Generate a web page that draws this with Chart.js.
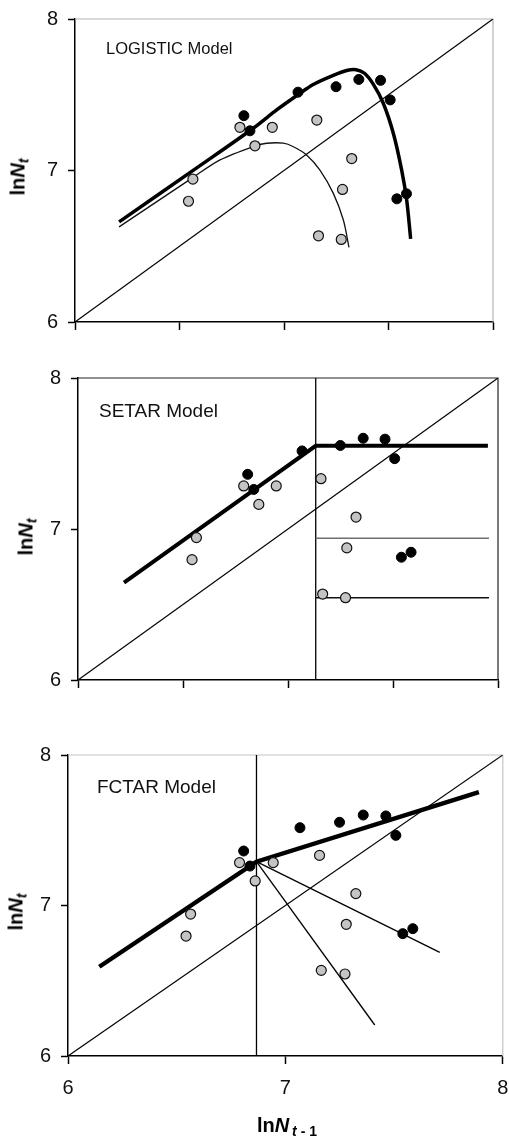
<!DOCTYPE html>
<html>
<head>
<meta charset="utf-8">
<script src="https://cdn.jsdelivr.net/npm/chart.js@4.4.1/dist/chart.umd.min.js"></script>
<style>
  html, body { margin: 0; padding: 0; background: #fff; }
  #page { position: relative; width: 509px; height: 1145px; overflow: hidden;
          font-family: "Liberation Sans", Arial, sans-serif; color: #000; }
  .panel { position: absolute; left: 0; width: 509px; }
  .panel canvas { display: block; }
  .ytitle, .xtitle { position: absolute; font-weight: bold; font-size: 20px; line-height: 1;
                     white-space: nowrap; }
  .ytitle { transform: translate(-50%, -50%) rotate(-90deg); }
  .xtitle { transform: translate(-50%, -50%); }
  .ytitle sub, .xtitle sub { font-size: 14px; vertical-align: -4px; }
</style>
</head>
<body>
<div id="page">
  <div class="panel" style="top:0"><canvas id="c1" width="509" height="345"></canvas></div>
  <div class="panel" style="top:345px"><canvas id="c2" width="509" height="345"></canvas></div>
  <div class="panel" style="top:690px"><canvas id="c3" width="509" height="455"></canvas></div>
  <div class="ytitle" style="left:19px;top:177px">ln<i>N</i><sub><i>t</i></sub></div>
  <div class="ytitle" style="left:27px;top:537px">ln<i>N</i><sub><i>t</i></sub></div>
  <div class="ytitle" style="left:17px;top:912px">ln<i>N</i><sub><i>t</i></sub></div>
  <div class="xtitle" style="left:287px;top:1126px">ln<i>N</i><sub>&#8201;<i>t</i> - 1</sub></div>
</div>
<script>
// observed points (same in all three panels)
const blackX = [6.808, 6.837, 7.067, 7.249, 7.358, 7.462, 7.508, 7.540, 7.586];
const blackY = [7.362, 7.262, 7.517, 7.553, 7.601, 7.595, 7.466, 6.813, 6.846];
const grayX = [6.543, 6.564, 6.789, 6.861, 6.944, 7.157, 7.324, 7.280, 7.165, 7.274];
const grayY = [6.797, 6.943, 7.285, 7.163, 7.285, 7.333, 7.079, 6.875, 6.569, 6.545];

// 1:1 line
const diagX = [6, 8];
const diagY = [6, 8];

// logistic fits
const logBlackX = [6.211, 6.598, 6.853, 6.965, 7.077, 7.140, 7.236, 7.300, 7.345, 7.385, 7.427, 7.475, 7.523, 7.563, 7.587, 7.606];
const logBlackY = [6.661, 7.032, 7.279, 7.400, 7.510, 7.568, 7.628, 7.660, 7.665, 7.642, 7.570, 7.444, 7.246, 7.003, 6.805, 6.549];
const logGrayX = [6.211, 6.558, 6.694, 6.861, 6.917, 6.997, 7.045, 7.108, 7.172, 7.236, 7.284, 7.311];
const logGrayY = [6.628, 6.948, 7.070, 7.162, 7.180, 7.180, 7.157, 7.103, 7.003, 6.849, 6.673, 6.492];

// SETAR fit
const setarFitX = [6.219, 7.132, 7.952];
const setarFitY = [6.645, 7.551, 7.551];
const setarThreshold = 7.132;
const setarLowX = [7.132, 7.957];
const setarGrayLevel = 6.939;
const setarBlackLevel = 6.545;

// FCTAR fit
const fctarFitX = [6.144, 6.867, 7.890];
const fctarFitY = [6.593, 7.291, 7.754];
const fctarThreshold = 6.867;
const fctarSteepX = [6.867, 7.411];
const fctarSteepY = [7.291, 6.206];
const fctarShallowX = [6.867, 7.710];
const fctarShallowY = [7.291, 6.689];

const yTicks = ['6', '7', '8'];
const xTicks = ['6', '7', '8'];

const pts = (xs, ys) => xs.map((x, i) => ({ x: x, y: ys[i] }));

const tickFont = { family: '"Liberation Sans", Arial, sans-serif', size: 20 };

// top/right frame lines
const framePlugin = {
  id: 'frame',
  beforeDatasetsDraw(chart, args, opts) {
    const { ctx, chartArea: a } = chart;
    ctx.save();
    ctx.strokeStyle = opts.color;
    ctx.lineWidth = opts.width;
    ctx.beginPath();
    ctx.moveTo(a.left, a.top);
    ctx.lineTo(a.right, a.top);
    ctx.lineTo(a.right, a.bottom);
    ctx.stroke();
    ctx.restore();
  }
};

const labelPlugin = {
  id: 'panelLabel',
  afterDraw(chart, args, opts) {
    const { ctx, chartArea: a } = chart;
    ctx.save();
    ctx.font = opts.size + 'px "Liberation Sans", Arial, sans-serif';
    ctx.fillStyle = '#111';
    ctx.textBaseline = 'alphabetic';
    ctx.fillText(opts.text, a.left + opts.dx, a.top + opts.dy);
    ctx.restore();
  }
};

function scatterSets() {
  return [
    { data: pts(blackX, blackY), pointRadius: 5, pointBackgroundColor: '#000',
      pointBorderColor: '#000', pointBorderWidth: 1, showLine: false },
    { data: pts(grayX, grayY), pointRadius: 5, pointBackgroundColor: '#c4c4c4',
      pointBorderColor: '#111', pointBorderWidth: 1.2, showLine: false }
  ];
}

function line(xs, ys, width, color, tension) {
  return { data: pts(xs, ys), showLine: true, pointRadius: 0, borderColor: color || '#000',
           borderWidth: width, tension: tension || 0, fill: false };
}

function makeChart(id, box, datasets, xStep, showX, frameColor, label) {
  const h = document.getElementById(id).height;
  return new Chart(document.getElementById(id), {
    type: 'scatter',
    data: { datasets: datasets },
    plugins: [framePlugin, labelPlugin],
    options: {
      responsive: false,
      animation: false,
      events: [],
      layout: { padding: { top: box.top, right: 509 - box.right, left: 0, bottom: 0 } },
      plugins: {
        legend: { display: false },
        tooltip: { enabled: false },
        frame: { color: frameColor, width: 1.2 },
        panelLabel: label
      },
      scales: {
        x: {
          type: 'linear', min: 6, max: 8,
          afterFit: s => { s.height = h - box.bottom; s.paddingLeft = 0; s.paddingRight = 0; },
          afterBuildTicks: s => { s.ticks = []; for (let v = 6; v <= 8.001; v += xStep) s.ticks.push({ value: v }); },
          border: { display: true, color: '#000', width: 1.5 },
          grid: { drawOnChartArea: false, drawTicks: true, tickLength: 8, tickColor: '#000', tickWidth: 1.5 },
          ticks: {
            display: showX, padding: 12, color: '#111', font: tickFont,
            callback: v => xTicks[Math.round(v) - 6]
          }
        },
        y: {
          type: 'linear', min: 6, max: 8,
          afterFit: s => { s.width = box.left; s.paddingTop = 0; s.paddingBottom = 0; },
          border: { display: true, color: '#000', width: 1.5 },
          grid: { drawOnChartArea: false, drawTicks: true, tickLength: 7, tickColor: '#000', tickWidth: 1.5 },
          ticks: {
            stepSize: 1, padding: 10, color: '#111', font: tickFont,
            callback: v => yTicks[Math.round(v) - 6]
          }
        }
      }
    }
  });
}

// panel 1: logistic
makeChart('c1', { left: 75, right: 493, top: 19, bottom: 322 }, [
  ...scatterSets(),
  line(logBlackX, logBlackY, 3.5, '#000', 0.3),
  line(logGrayX, logGrayY, 1.3, '#111', 0.3),
  line(diagX, diagY, 1.2)
], 0.5, false, '#b4b4b4', { text: 'LOGISTIC Model', size: 16.5, dx: 31, dy: 35 });

// panel 2: SETAR
makeChart('c2', { left: 78, right: 498, top: 33, bottom: 335 }, [
  ...scatterSets(),
  line(setarFitX, setarFitY, 4),
  line(setarLowX, [setarGrayLevel, setarGrayLevel], 1.6, '#6e6e6e'),
  line(setarLowX, [setarBlackLevel, setarBlackLevel], 1.6, '#111'),
  line([setarThreshold, setarThreshold], diagX, 1.3),
  line(diagX, diagY, 1.2)
], 0.5, false, '#222', { text: 'SETAR Model', size: 19, dx: 21, dy: 39 });

// panel 3: FCTAR
makeChart('c3', { left: 68, right: 503, top: 65, bottom: 366 }, [
  ...scatterSets(),
  line(fctarFitX, fctarFitY, 4.5),
  line(fctarSteepX, fctarSteepY, 1.3),
  line(fctarShallowX, fctarShallowY, 1.3),
  line([fctarThreshold, fctarThreshold], diagX, 1.3),
  line(diagX, diagY, 1.2)
], 1, true, '#c4c4c4', { text: 'FCTAR Model', size: 19, dx: 29, dy: 38 });
</script>
</body>
</html>
